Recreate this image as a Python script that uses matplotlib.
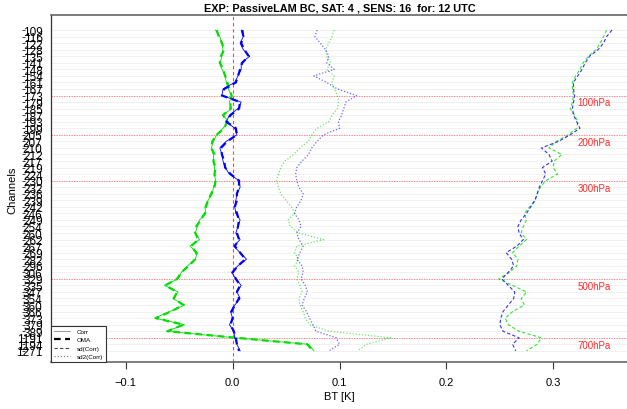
import matplotlib

matplotlib.use("Agg")
import matplotlib.pyplot as plt
import matplotlib.transforms as mtransforms
import numpy as np
from matplotlib.lines import Line2D

plt.rcParams["font.family"] = ["Liberation Sans", "DejaVu Sans"]

# channel list (top -> bottom)
channels = [
  109, 116, 122, 128, 135, 141, 148, 154, 161, 167,
  173, 179, 185, 187, 193, 199, 205, 207, 210, 212,
  217, 219, 224, 230, 232, 236, 239, 242, 246, 249,
  254, 260, 262, 267, 269, 282, 296, 306, 329, 335,
  347, 354, 360, 366, 373, 379, 389, 1191, 1194, 1271,
]
level_names = ["100hPa", "200hPa", "300hPa", "500hPa", "700hPa"]
level_channels = [173, 205, 230, 329, 1191]

xticks = [-0.1, 0.0, 0.1, 0.2, 0.3]
xtick_labels = ["\u22120.1", "0.0", "0.1", "0.2", "0.3"]

green_corr = [
  -0.016, -0.012, -0.010, -0.009, -0.010, -0.012, -0.010, -0.007, -0.006, -0.004,
  -0.001, -0.003, -0.001, -0.009, -0.004, -0.009, -0.015, -0.018, -0.020, -0.018,
  -0.018, -0.017, -0.017, -0.016, -0.018, -0.019, -0.023, -0.026, -0.025, -0.031,
  -0.033, -0.035, -0.031, -0.040, -0.033, -0.035, -0.042, -0.048, -0.051, -0.064,
  -0.051, -0.056, -0.045, -0.059, -0.073, -0.045, -0.062, 0.002, 0.071, 0.076,
]
green_oma = [
  -0.015, -0.013, -0.010, -0.008, -0.011, -0.012, -0.009, -0.007, -0.005, -0.003,
  -0.001, -0.002, -0.002, -0.009, -0.005, -0.008, -0.015, -0.019, -0.020, -0.017,
  -0.018, -0.016, -0.017, -0.016, -0.017, -0.020, -0.023, -0.025, -0.026, -0.030,
  -0.034, -0.035, -0.032, -0.039, -0.034, -0.035, -0.041, -0.048, -0.052, -0.063,
  -0.052, -0.055, -0.046, -0.058, -0.072, -0.046, -0.061, 0.003, 0.070, 0.075,
]
green_sd = [
  0.350, 0.347, 0.344, 0.340, 0.333, 0.328, 0.325, 0.321, 0.318, 0.318,
  0.319, 0.318, 0.316, 0.320, 0.323, 0.322, 0.314, 0.303, 0.296, 0.308,
  0.301, 0.300, 0.304, 0.293, 0.288, 0.285, 0.283, 0.278, 0.273, 0.275,
  0.272, 0.270, 0.275, 0.268, 0.262, 0.267, 0.266, 0.259, 0.249, 0.262,
  0.275, 0.270, 0.273, 0.262, 0.255, 0.258, 0.268, 0.289, 0.285, 0.275,
]
green_sd2 = [
  0.095, 0.093, 0.090, 0.087, 0.088, 0.092, 0.088, 0.095, 0.093, 0.095,
  0.098, 0.099, 0.098, 0.093, 0.090, 0.079, 0.074, 0.071, 0.063, 0.057,
  0.049, 0.045, 0.043, 0.041, 0.043, 0.045, 0.050, 0.055, 0.058, 0.052,
  0.054, 0.062, 0.085, 0.060, 0.058, 0.062, 0.058, 0.062, 0.060, 0.063,
  0.065, 0.062, 0.063, 0.066, 0.068, 0.072, 0.090, 0.148, 0.125, 0.117,
]

blue_corr = [
  0.008, 0.010, 0.007, 0.010, 0.016, 0.008, 0.008, 0.005, 0.002, -0.009,
  -0.010, 0.008, 0.005, -0.003, -0.006, 0.002, 0.004, -0.006, -0.012, -0.010,
  -0.009, -0.007, -0.003, 0.006, 0.007, 0.004, 0.003, 0.002, 0.003, 0.007,
  0.005, 0.003, 0.007, 0.001, 0.007, 0.013, 0.005, -0.001, 0.003, 0.008,
  0.004, 0.007, 0.002, -0.002, 0.000, -0.003, 0.001, 0.002, 0.004, 0.007,
]
blue_oma = [
  0.009, 0.010, 0.008, 0.011, 0.015, 0.009, 0.007, 0.005, 0.003, -0.008,
  -0.010, 0.007, 0.006, -0.002, -0.006, 0.003, 0.004, -0.005, -0.011, -0.010,
  -0.008, -0.007, -0.002, 0.006, 0.006, 0.004, 0.004, 0.002, 0.004, 0.006,
  0.005, 0.004, 0.006, 0.002, 0.007, 0.012, 0.005, 0.000, 0.003, 0.007,
  0.004, 0.006, 0.002, -0.001, 0.000, -0.002, 0.001, 0.003, 0.004, 0.006,
]
blue_sd = [
  0.355, 0.350, 0.347, 0.342, 0.334, 0.330, 0.327, 0.323, 0.319, 0.319,
  0.320, 0.319, 0.318, 0.319, 0.322, 0.325, 0.316, 0.305, 0.289, 0.296,
  0.299, 0.290, 0.293, 0.290, 0.287, 0.285, 0.283, 0.279, 0.275, 0.270,
  0.267, 0.268, 0.272, 0.266, 0.256, 0.261, 0.263, 0.258, 0.252, 0.258,
  0.264, 0.263, 0.258, 0.253, 0.251, 0.250, 0.253, 0.268, 0.262, 0.265,
]
blue_sd2 = [
  0.079, 0.077, 0.082, 0.087, 0.090, 0.088, 0.095, 0.076, 0.088, 0.098,
  0.116, 0.106, 0.104, 0.102, 0.099, 0.100, 0.085, 0.079, 0.074, 0.071,
  0.065, 0.060, 0.059, 0.060, 0.062, 0.066, 0.064, 0.060, 0.058, 0.062,
  0.064, 0.060, 0.062, 0.066, 0.063, 0.060, 0.065, 0.066, 0.064, 0.068,
  0.070, 0.067, 0.065, 0.069, 0.072, 0.075, 0.078, 0.097, 0.100, 0.090,
]

title = "EXP: PassiveLAM BC, SAT: 4 , SENS: 16  for: 12 UTC"

GREEN = "#00dd00"
BLUE = "#0000ff"
DASH = (0, (3, 2))
DOT = (0, (1, 1.5))

fig = plt.figure(figsize=(6.27, 4.10), dpi=100)
ax = fig.add_axes([51 / 627, 47 / 410, 577 / 627, 347 / 410])

rows = np.arange(len(channels))

# light row grid
ax.hlines(rows, -1, 1, color="#ececec", lw=0.5, zorder=0)

# pressure level markers
for name, ch in zip(level_names, level_channels):
  r = channels.index(ch)
  ax.axhline(r, color="#ff7777", lw=0.6, ls=(0, (1.5, 1.5)), zorder=1)
  ax.text(0.3225, r + 1.05, name, color="#ff2a2a", fontsize=7, va="center", ha="left")

ax.axvline(0.0, color="#ff4444", lw=0.8, ls=(0, (3, 2.5)), zorder=1)

for color, corr, oma, sd, sd2 in (
  (GREEN, green_corr, green_oma, green_sd, green_sd2),
  (BLUE, blue_corr, blue_oma, blue_sd, blue_sd2),
):
  ax.plot(corr, rows, color=color, lw=0.6, zorder=3)
  ax.plot(oma, rows, color=color, lw=1.6, ls=DASH, zorder=3)
  ax.plot(sd, rows, color=color, lw=0.8, ls=DASH, alpha=0.8, zorder=2)
  ax.plot(sd2, rows, color=color, lw=0.9, ls=DOT, alpha=0.6, zorder=2)

ax.set_xlim(-0.17, 0.37)
ax.set_ylim(len(channels) + 0.7, -2.3)

ax.set_xticks(xticks)
ax.set_xticklabels(xtick_labels)
ax.tick_params(axis="x", length=5, width=0.8, color="#333333", pad=6, labelsize=8)
ax.set_yticks(rows)
ax.set_yticklabels([str(c) for c in channels])
ax.tick_params(axis="y", length=0, pad=6, labelsize=8.5)

# R-style tick marks drawn left of the labels
trans = mtransforms.blended_transform_factory(ax.transAxes, ax.transData)
ax.hlines(rows, -0.0505, -0.0450, transform=trans, clip_on=False, color="#222222", lw=0.6)

for side, spine in ax.spines.items():
  spine.set_color("#666666")
  spine.set_linewidth(1.2)
ax.spines["left"].set_color("#333333")
ax.spines["left"].set_linewidth(0.9)

ax.set_title(title, fontsize=7.8, fontweight="bold", pad=3)
fig.text(339 / 627, 1 - 397 / 410, "BT [K]", fontsize=8, ha="center", va="center")
fig.text(12 / 627, 1 - 190 / 410, "Channels", fontsize=8, rotation=90, ha="center", va="center")

handles = [
  Line2D([], [], color="#888888", lw=0.6),
  Line2D([], [], color="#000000", lw=1.6, ls=DASH),
  Line2D([], [], color="#444444", lw=0.8, ls=DASH),
  Line2D([], [], color="#888888", lw=0.9, ls=DOT),
]
leg = ax.legend(
  handles,
  ["Corr", "OMA", "sd(Corr)", "sd2(Corr)"],
  loc="lower left",
  bbox_to_anchor=(0, 0),
  borderaxespad=0,
  fontsize=4.5,
  fancybox=False,
  edgecolor="#333333",
  framealpha=1,
  handlelength=2.6,
  handletextpad=1.0,
  labelspacing=0.45,
  borderpad=0.5,
)
leg.get_frame().set_linewidth(0.8)

fig.savefig("out.png", dpi=100)
